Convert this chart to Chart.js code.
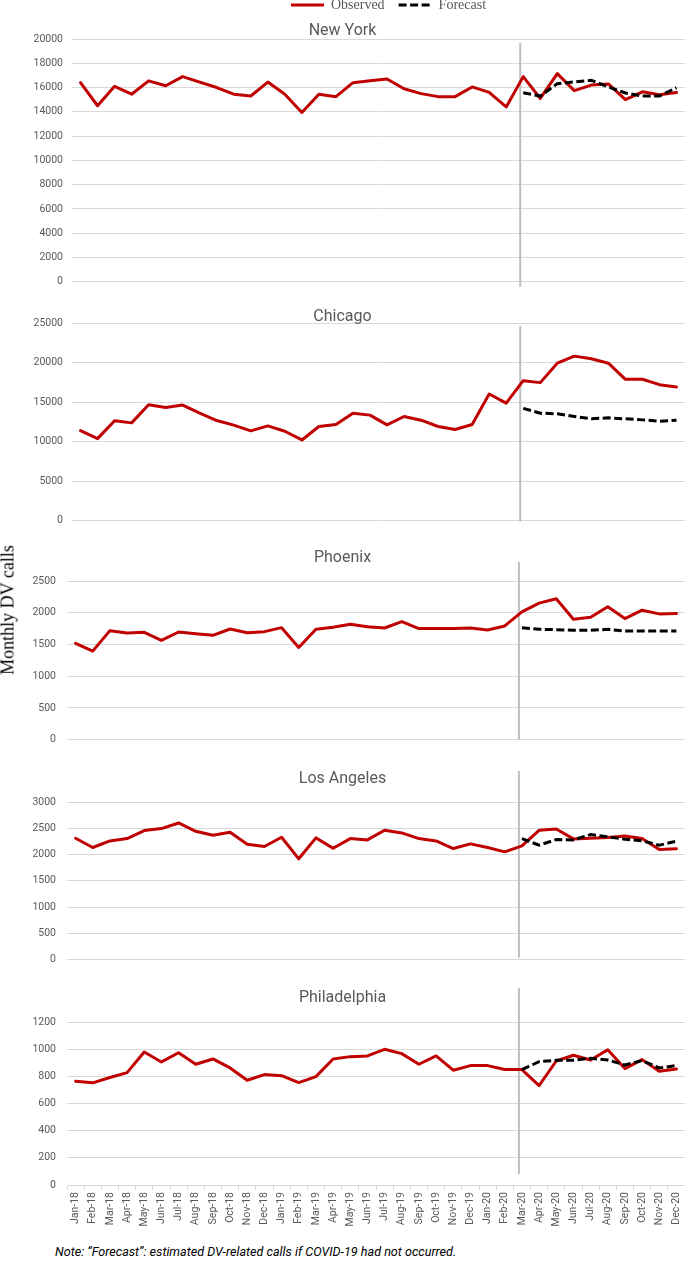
<!DOCTYPE html>
<html>
<head>
<meta charset="utf-8">
<script src="https://cdn.jsdelivr.net/npm/chart.js@4.4.1/dist/chart.umd.min.js"></script>
<style>
html,body{margin:0;padding:0;background:#fff;}
body{width:685px;height:1261px;position:relative;overflow:hidden;}
.box{position:absolute;left:0;width:685px;}
#ytitle{position:absolute;left:8px;top:610px;transform:translate(-50%,-50%) rotate(-90deg);font-family:"Liberation Serif";font-size:18px;white-space:nowrap;color:#000;}
#note{position:absolute;left:55px;top:1244px;font-family:Roboto;font-style:italic;font-size:12.6px;color:#000;white-space:nowrap;}
</style>
</head>
<body>
<div class="box" style="left:88px;width:601px;top:-16px;height:100px"><canvas id="cLegend"></canvas></div>
<div class="box" id="b0"><canvas id="c0"></canvas></div>
<div class="box" id="b1"><canvas id="c1"></canvas></div>
<div class="box" id="b2"><canvas id="c2"></canvas></div>
<div class="box" id="b3"><canvas id="c3"></canvas></div>
<div class="box" id="b4"><canvas id="c4"></canvas></div>
<div id="ytitle">Monthly DV calls</div>
<div id="note">Note: “Forecast”: estimated DV-related calls if COVID-19 had not occurred.</div>
<script>
// ---- data ----
const months = ['Jan-18','Feb-18','Mar-18','Apr-18','May-18','Jun-18','Jul-18','Aug-18','Sep-18','Oct-18','Nov-18','Dec-18',
                'Jan-19','Feb-19','Mar-19','Apr-19','May-19','Jun-19','Jul-19','Aug-19','Sep-19','Oct-19','Nov-19','Dec-19',
                'Jan-20','Feb-20','Mar-20','Apr-20','May-20','Jun-20','Jul-20','Aug-20','Sep-20','Oct-20','Nov-20','Dec-20'];
const forecastMonths = ['Mar-20','Apr-20','May-20','Jun-20','Jul-20','Aug-20','Sep-20','Oct-20','Nov-20','Dec-20'];
const covidStart = 'Mar-20';
const seriesNames = ['Observed','Forecast'];
const cityNames = ['New York','Chicago','Phoenix','Los Angeles','Philadelphia'];

const nyObserved = [16400,14500,16100,15450,16550,16150,16900,16450,16000,15450,15300,16450,15450,13950,15450,15250,16400,16550,16700,15900,15500,15250,15250,16050,15600,14400,16900,15100,17150,15750,16200,16300,15000,15650,15400,15600];
const nyForecast = [15570,15300,16320,16460,16600,16040,15550,15300,15300,15990];

const chiObserved = [11400,10380,12630,12370,14660,14320,14620,13600,12670,12080,11360,11990,11310,10210,11910,12160,13600,13350,12120,13180,12710,11910,11530,12160,16020,14870,17710,17460,19920,20810,20470,19920,17880,17880,17200,16910];
const chiForecast = [14200,13600,13520,13180,12880,13010,12880,12750,12580,12710];

const phxObserved = [1517,1395,1718,1681,1691,1564,1697,1670,1644,1744,1686,1702,1765,1453,1739,1771,1818,1781,1760,1860,1750,1750,1750,1760,1728,1792,2014,2151,2220,1898,1929,2093,1908,2040,1982,1987];
const phxForecast = [1765,1739,1734,1723,1723,1739,1712,1712,1712,1712];

const laObserved = [2311,2134,2260,2304,2456,2494,2601,2443,2367,2424,2197,2153,2330,1919,2317,2121,2304,2279,2462,2412,2304,2260,2115,2203,2134,2052,2165,2462,2487,2298,2311,2323,2355,2304,2096,2109];
const laForecast = [2304,2178,2285,2279,2380,2336,2292,2260,2178,2254];

const phlObserved = [764,752,791,827,979,906,974,889,928,862,771,813,805,754,798,928,945,950,999,967,889,950,845,879,879,850,850,732,913,955,920,996,857,923,837,854];
const phlForecast = [850,908,918,918,933,920,884,916,862,879];

const yMax  = [20000, 25000, 2500, 3000, 1200];
const yStep = [2000, 5000, 500, 500, 200];

// ---- layout / style (not data) ----
const RED = '#c00000', BLACK = '#000000', GRID = '#d9d9d9', TXT = '#595959';
const DASH = [8, 3.5];
const panelLayout = [
  {top: 21,  height: 266, left: 72, pad: 9,  titleGap: 2,  vTop: 4,   vBot: 5},
  {top: 307, height: 219, left: 72, pad: 9,  titleGap: 0,  vTop: 3,   vBot: 1},
  {top: 548, height: 199, left: 67, pad: 11, titleGap: 17, vTop: -19, vBot: 0},
  {top: 769, height: 198, left: 67, pad: 11, titleGap: 17, vTop: -31, vBot: -2},
  {top: 988, height: 242, left: 67, pad: 11, titleGap: 18, vTop: -34, vBot: -11, xAxis: true}
];
const HIDDEN_X_EXTRA = 10;   // bottom room taken by hidden x axis
const TITLE_SHIFT = 2;

const observedSets = [nyObserved, chiObserved, phxObserved, laObserved, phlObserved];
const forecastSets = [nyForecast, chiForecast, phxForecast, laForecast, phlForecast];

const covidLine = {
  id: 'covidLine',
  beforeDatasetsDraw(chart, args, opts) {
    const xs = chart.scales.x;
    const x = xs.getPixelForValue(months.indexOf(opts.at)) + opts.dx;
    const {top, bottom} = chart.chartArea;
    const ctx = chart.ctx;
    ctx.save();
    ctx.strokeStyle = '#bfbfbf';
    ctx.lineWidth = 2;
    ctx.beginPath();
    ctx.moveTo(x, top + opts.topOff);
    ctx.lineTo(x, bottom + opts.botOff);
    ctx.stroke();
    ctx.restore();
  }
};

// legend chart
new Chart(document.getElementById('cLegend'), {
  type: 'line',
  data: {labels: [], datasets: [
    {label: seriesNames[0], data: [], borderColor: RED, borderWidth: 3},
    {label: seriesNames[1], data: [], borderColor: BLACK, borderWidth: 3, borderDash: DASH}
  ]},
  options: {
    animation: false, responsive: true, maintainAspectRatio: false, events: [],
    scales: {x: {display: false}, y: {display: false}},
    plugins: {
      tooltip: {enabled: false},
      legend: {
        display: true, position: 'top', onClick: null,
        labels: {
          usePointStyle: true, pointStyle: 'line', pointStyleWidth: 33, boxHeight: 14,
          padding: 14, color: TXT, font: {family: 'Liberation Serif', size: 14},
          generateLabels(chart) {
            return chart.data.datasets.map((d, i) => ({
              text: d.label, strokeStyle: d.borderColor, fillStyle: d.borderColor,
              lineWidth: d.borderWidth, lineDash: d.borderDash || [], lineCap: 'butt',
              pointStyle: 'line', datasetIndex: i, hidden: false, fontColor: TXT
            }));
          }
        }
      }
    }
  }
});

cityNames.forEach((name, i) => {
  const L = panelLayout[i];
  const box = document.getElementById('b' + i);
  box.style.top = L.top + 'px';
  box.style.height = (L.height + (L.xAxis ? 0 : HIDDEN_X_EXTRA)) + 'px';
  const xScale = L.xAxis ? {
    offset: true,
    grid: {offset: true, drawOnChartArea: false, drawTicks: true, tickLength: 5, color: GRID},
    border: {display: true, color: GRID, width: 1},
    ticks: {autoSkip: false, minRotation: 90, maxRotation: 90, padding: 2, color: TXT,
            font: {family: 'Roboto', size: 10.5}},
    afterFit(s) { s.height = 45; s.paddingLeft = 0; s.paddingRight = 0; }
  } : {display: false, offset: true};
  new Chart(document.getElementById('c' + i), {
    type: 'line',
    data: {
      labels: months,
      datasets: [
        {label: seriesNames[1], data: forecastSets[i].map((v, k) => ({x: forecastMonths[k], y: v})),
         borderColor: BLACK, borderWidth: 3, borderDash: DASH, pointRadius: 0, tension: 0, fill: false, order: 0},
        {label: seriesNames[0], data: observedSets[i],
         borderColor: RED, borderWidth: 3, pointRadius: 0, tension: 0, fill: false,
         borderJoinStyle: 'round', borderCapStyle: 'round', order: 1}
      ]
    },
    options: {
      animation: false, responsive: true, maintainAspectRatio: false, events: [],
      layout: {padding: 0},
      scales: {
        x: xScale,
        y: {
          min: 0, max: yMax[i],
          ticks: {stepSize: yStep[i], color: TXT, font: {family: 'Roboto', size: 10.5}, padding: L.pad,
                  callback: (v) => String(v)},
          grid: {color: GRID, lineWidth: 1, drawTicks: false},
          border: {display: false},
          afterFit(s) { s.width = L.left; }
        }
      },
      plugins: {
        legend: {display: false},
        tooltip: {enabled: false},
        title: {display: true, text: name, color: TXT,
                font: {family: 'Roboto', size: 16, weight: 'normal', lineHeight: 1},
                padding: {top: TITLE_SHIFT, bottom: L.titleGap - TITLE_SHIFT}},
        covidLine: {at: covidStart, dx: -3, topOff: L.vTop, botOff: L.vBot}
      }
    },
    plugins: [covidLine]
  });
});
</script>
</body>
</html>
